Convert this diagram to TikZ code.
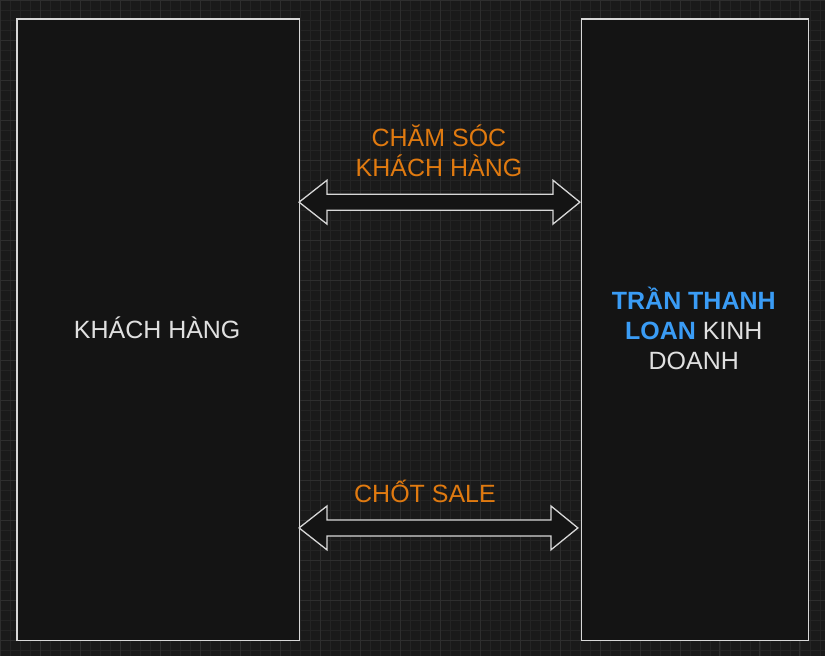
\documentclass[tikz,border=0pt]{standalone}
\usepackage{fontspec}
\setmainfont{Liberation Sans}
\definecolor{bg}{HTML}{1A1A1A}
\definecolor{boxfill}{HTML}{141414}
\definecolor{edge}{HTML}{D8D8D8}
\definecolor{orng}{HTML}{E07A10}
\definecolor{blu}{HTML}{3A9CF5}
\definecolor{gridc}{HTML}{242424}
\definecolor{gridm}{HTML}{2E2E2E}
\begin{document}
\begin{tikzpicture}[x=1pt,y=-1pt,
  panel/.style={draw=edge,line width=1.4pt,fill=boxfill},
  dbl/.style={draw=edge,line width=1.3pt,fill=boxfill,line join=miter},
  lbl/.style={font=\fontsize{25}{30}\selectfont,align=center}]
\fill[bg] (0,0) rectangle (825,656);
\foreach \i in {0,10,...,820} \draw[gridc,line width=0.4pt] (\i,0) -- (\i,656);
\foreach \i in {0,10,...,650} \draw[gridc,line width=0.4pt] (0,\i) -- (825,\i);
\foreach \i in {0,40,...,820} \draw[gridm,line width=0.6pt] (\i,0) -- (\i,656);
\foreach \i in {0,40,...,650} \draw[gridm,line width=0.6pt] (0,\i) -- (825,\i);
\node[panel,minimum width=283,minimum height=622,anchor=north west,inner sep=0] (L) at (16,18) {};
\node[panel,minimum width=227,minimum height=622,anchor=north west,inner sep=0] (R) at (581,18) {};
\node[lbl,text=white!88!black] (lt) at (157,328) {KHÁCH HÀNG};
\node[lbl,text=white!88!black] (rt) at (694,328) {\textcolor{blu}{\bfseries TRẦN THANH}\\\textcolor{blu}{\bfseries LOAN} KINH\\DOANH};
\coordinate (a1) at (299,202);
\coordinate (b1) at (580,202);
\draw[dbl] (a1) -- (327,180) -- (327,194) -- (553,194) -- (553,180) -- (b1) -- (553,224) -- (553,210) -- (327,210) -- (327,224) -- cycle;
\coordinate (a2) at (299,528);
\coordinate (b2) at (578,528);
\draw[dbl] (a2) -- (327,506) -- (327,520) -- (551,520) -- (551,506) -- (b2) -- (551,550) -- (551,536) -- (327,536) -- (327,550) -- cycle;
\node[lbl,text=orng] (t1) at (439,151) {CHĂM SÓC\\KHÁCH HÀNG};
\node[lbl,text=orng] (t2) at (425,491) {CHỐT SALE};
\end{tikzpicture}
\end{document}
